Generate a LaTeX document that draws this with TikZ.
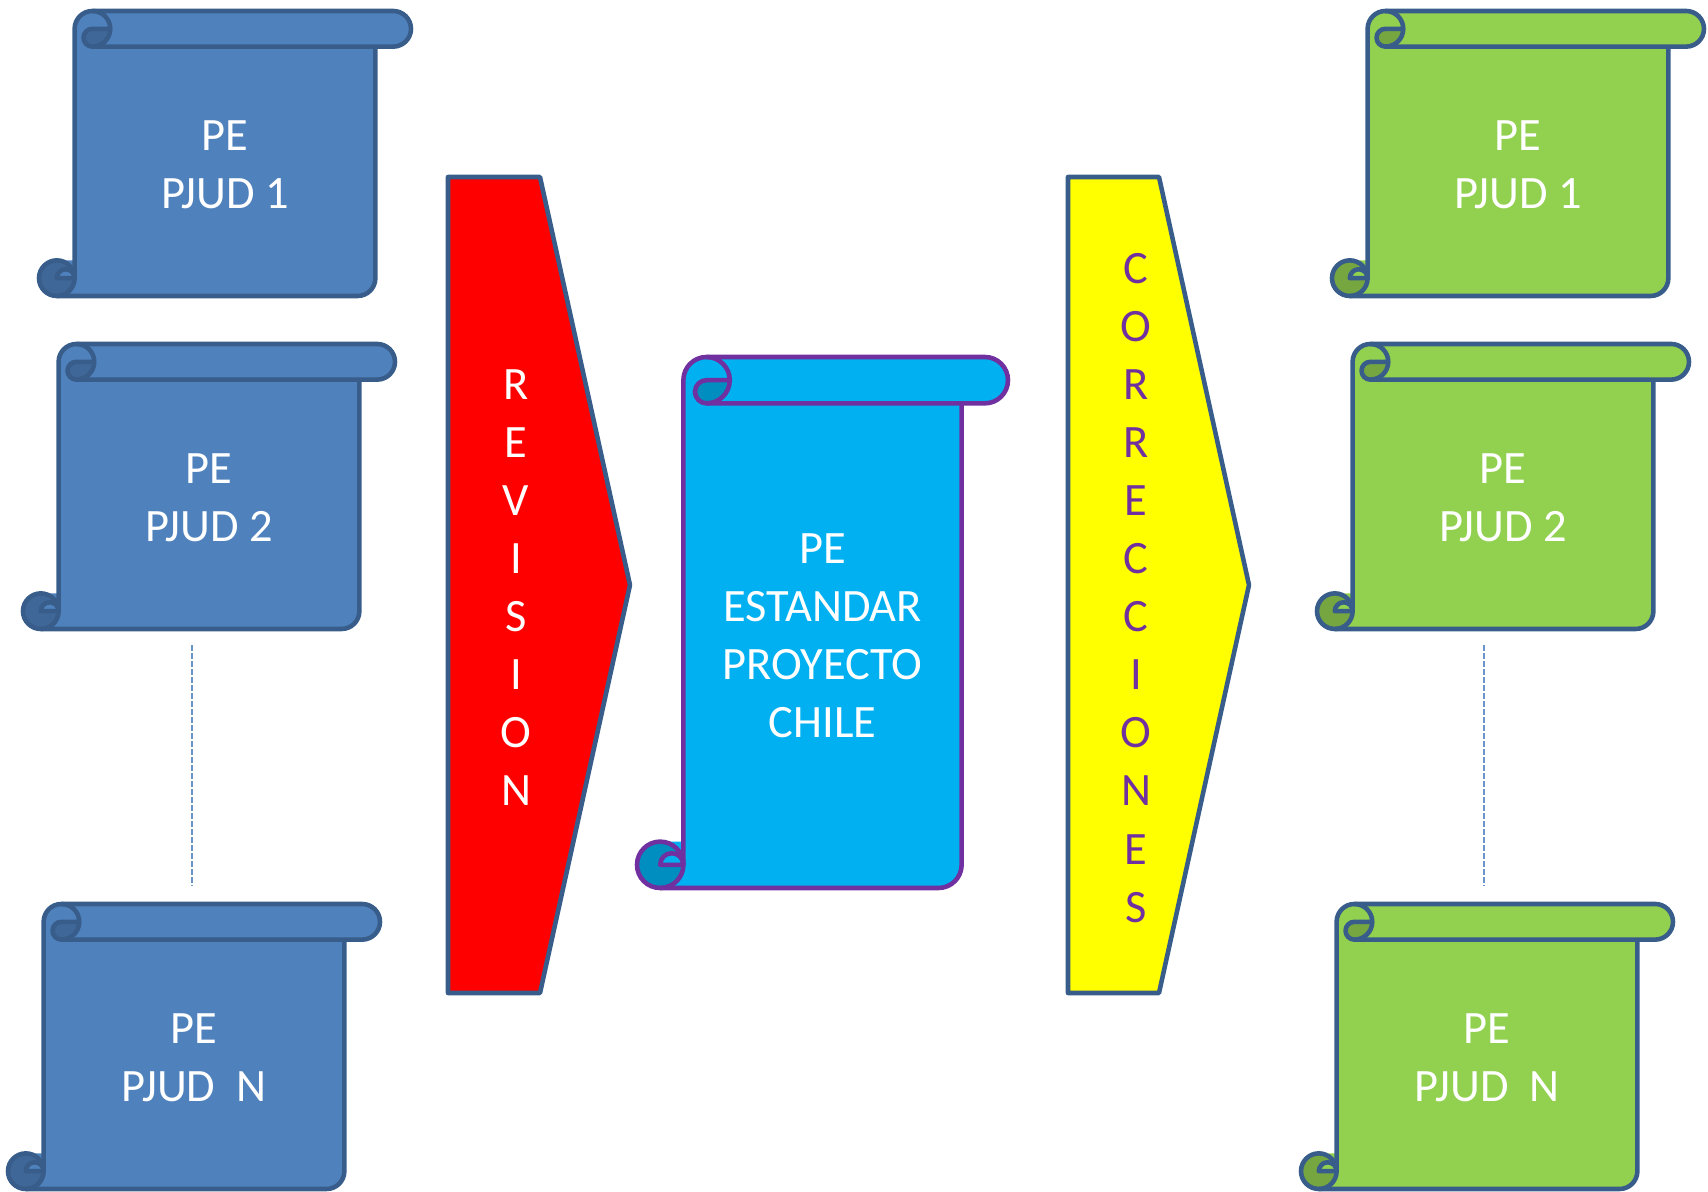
\documentclass[tikz,border=0pt]{standalone}
\usepackage{fontspec}
\setmainfont{Carlito}
\usepackage{tikz}

\definecolor{azul}{HTML}{4F81BD}
\definecolor{azuloscuro}{HTML}{3F6797}
\definecolor{borde}{HTML}{385D8A}
\definecolor{verde}{HTML}{92D050}
\definecolor{verdeoscuro}{HTML}{75A640}
\definecolor{celeste}{HTML}{00B0F0}
\definecolor{celesteoscuro}{HTML}{008DC0}
\definecolor{morado}{HTML}{7030A0}
\definecolor{rojo}{HTML}{FF0000}
\definecolor{amarillo}{HTML}{FFFF00}

\newcommand{\pergamino}[9]{%
  \pgfmathsetmacro\pgL{#2}%
  \pgfmathsetmacro\pgT{#3}%
  \pgfmathsetmacro\pgR{#2+#4}%
  \pgfmathsetmacro\pgB{#3+#5}%
  \pgfmathsetmacro\pgC{0.125*min(#4,#5)}%
  \pgfmathsetmacro\pgH{\pgC/2}%
  \pgfmathsetmacro\pgQ{\pgC/4}%
  \fill[#6] ({\pgL+\pgC},{\pgT+\pgH}) arc[start angle=180,end angle=270,radius=\pgH]
    -- ({\pgR-\pgH},\pgT) arc[start angle=270,end angle=450,radius=\pgH]
    -- ({\pgR-\pgC},{\pgT+\pgC}) -- ({\pgR-\pgC},{\pgB-\pgH}) arc[start angle=0,end angle=90,radius=\pgH]
    -- ({\pgL+\pgH},\pgB) arc[start angle=90,end angle=270,radius=\pgH]
    -- ({\pgL+\pgC},{\pgB-\pgC}) -- cycle;
  \fill[#7] ({\pgL+\pgH},{\pgB-\pgH}) circle[radius=\pgH];
  \fill[#6] ({\pgL+\pgH},{\pgB-\pgH}) arc[start angle=180,end angle=360,radius=\pgQ] -- cycle;
  \fill[#7] ({\pgL+2*\pgC},{\pgT+\pgH}) arc[start angle=0,end angle=90,radius=\pgH]
    arc[start angle=90,end angle=270,radius=\pgQ] -- cycle;
  \draw[linea,#8] ({\pgL+\pgC},{\pgB-\pgH}) -- ({\pgL+\pgC},{\pgT+\pgH})
    arc[start angle=180,end angle=270,radius=\pgH] -- ({\pgR-\pgH},\pgT)
    arc[start angle=270,end angle=450,radius=\pgH] -- ({\pgL+\pgC+\pgH},{\pgT+\pgC});
  \draw[linea,#8] ({\pgR-\pgC},{\pgT+\pgC}) -- ({\pgR-\pgC},{\pgB-\pgH})
    arc[start angle=0,end angle=90,radius=\pgH] -- ({\pgL+\pgH},\pgB);
  \draw[linea,#8] ({\pgL+\pgC+\pgH},\pgT) arc[start angle=270,end angle=450,radius=\pgH]
    arc[start angle=90,end angle=270,radius=\pgQ] -- ({\pgL+2*\pgC},{\pgT+\pgH});
  \draw[linea,#8] ({\pgL+\pgH},{\pgB-\pgH}) circle[radius=\pgH];
  \draw[linea,#8] ({\pgL+\pgH},{\pgB-\pgH}) arc[start angle=180,end angle=360,radius=\pgQ] -- cycle;
  \node[texto] (#1) at ({(\pgL+\pgR)/2},{(\pgT+\pgC+\pgB-\pgH)/2+2}) {#9};
}

\begin{document}
\begin{tikzpicture}[x=0.01cm,y=-0.01cm,line join=round,
  linea/.style={line width=1.3pt},
  texto/.style={text=white,align=center,font=\fontsize{13.2}{16.5}\selectfont},
  puntos/.style={azul!85!white,line width=0.55pt,dash pattern=on 0.06cm off 0.02cm}]
\useasboundingbox (0,0) rectangle (1708,1192);

\pergamino{pe1}{39}{11}{372}{285}{azul}{azuloscuro}{borde}{PE\\PJUD 1}
\pergamino{pe2}{23}{344}{372}{285}{azul}{azuloscuro}{borde}{PE\\PJUD 2}
\pergamino{pen}{8}{904}{372}{285}{azul}{azuloscuro}{borde}{PE\\PJUD~~N}
\coordinate (ia) at (192,645);
\coordinate (ib) at (192,886);
\draw[puntos] (ia) -- (ib);

\draw[linea,draw=borde,fill=rojo] (448,177) -- (540,177) -- (630,585) -- (540,993) -- (448,993) -- cycle;
\node[texto] (revision) at (516,588) {R\\E\\V\\I\\S\\I\\O\\N};

\pergamino{estandar}{637}{357}{371}{531}{celeste}{celesteoscuro}{morado}{PE\\ESTANDAR\\PROYECTO\\CHILE}

\draw[linea,draw=borde,fill=amarillo] (1068,177) -- (1159,177) -- (1249,585) -- (1159,993) -- (1068,993) -- cycle;
\node[texto,text=morado] (correcciones) at (1136,588) {C\\O\\R\\R\\E\\C\\C\\I\\O\\N\\E\\S};

\pergamino{pv1}{1332}{11}{372}{285}{verde}{verdeoscuro}{borde}{PE\\PJUD 1}
\pergamino{pv2}{1317}{344}{372}{285}{verde}{verdeoscuro}{borde}{PE\\PJUD 2}
\pergamino{pvn}{1301}{904}{372}{285}{verde}{verdeoscuro}{borde}{PE\\PJUD~~N}
\coordinate (da) at (1484,645);
\coordinate (db) at (1484,886);
\draw[puntos] (da) -- (db);
\end{tikzpicture}
\end{document}
